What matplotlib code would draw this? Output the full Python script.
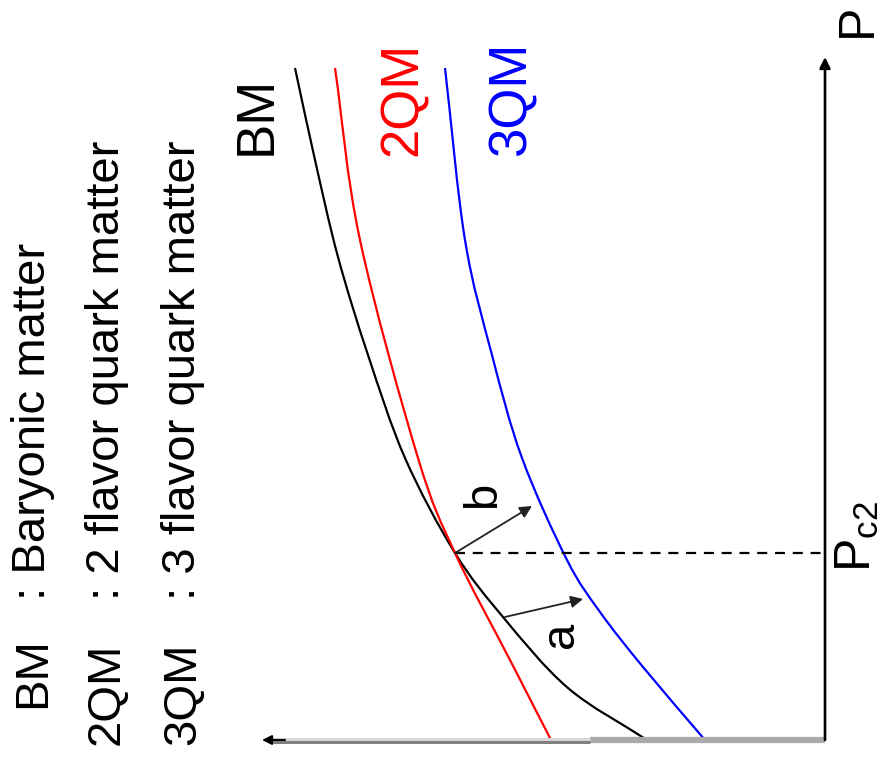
import matplotlib
matplotlib.use("Agg")
import matplotlib.pyplot as plt
from matplotlib.path import Path
from matplotlib.patches import PathPatch

plt.rcParams['font.family'] = ['Liberation Sans', 'DejaVu Sans']
plt.rcParams['mathtext.fontset'] = 'custom'
plt.rcParams['mathtext.rm'] = 'Liberation Sans'
plt.rcParams['mathtext.it'] = 'Liberation Sans'

# chemical potential (arbitrary units) and pressure (arbitrary units)
bm_mu = [530, 510, 487, 457, 420, 370, 322, 257, 178]
bm_p = [672, 580, 483, 385, 282, 187, 123, 52, 0]

qm2_mu = [490, 465, 407, 370, 315, 274]
qm2_p = [672, 500, 282, 187, 80, 0]

qm3_mu = [380, 360, 333, 303, 258, 225, 182, 120]
qm3_p = [672, 500, 385, 282, 180, 128, 73, 0]

p_c2 = 187
mu_c2 = 370

labels = ["BM", "2QM", "3QM"]
descriptions = [": Baryonic matter", ": 2 flavor quark matter", ": 3 flavor quark matter"]


def smooth_curve(ax, xs, ys, **kw):
    # draw a smooth path through the read points (Catmull-Rom as cubic Bezier)
    pts = list(zip(xs, ys))
    n = len(pts)
    verts = [pts[0]]
    codes = [Path.MOVETO]
    for i in range(n - 1):
        p1 = pts[i]
        p2 = pts[i + 1]
        if i > 0:
            p0 = pts[i - 1]
        else:
            p0 = (2 * p1[0] - p2[0], 2 * p1[1] - p2[1])
        if i + 2 < n:
            p3 = pts[i + 2]
        else:
            p3 = (2 * p2[0] - p1[0], 2 * p2[1] - p1[1])
        c1 = (p1[0] + (p2[0] - p0[0]) / 6.0, p1[1] + (p2[1] - p0[1]) / 6.0)
        c2 = (p2[0] - (p3[0] - p1[0]) / 6.0, p2[1] - (p3[1] - p1[1]) / 6.0)
        verts += [c1, c2, p2]
        codes += [Path.CURVE4] * 3
    ax.add_patch(PathPatch(Path(verts, codes), fill=False, **kw))


fig = plt.figure(figsize=(8.8, 7.65), dpi=100)
ax = fig.add_axes([0, 0, 1, 1])
ax.set_xlim(825, -55)
ax.set_ylim(-25, 740)
ax.axis('off')

################# curves #########################################
smooth_curve(ax, bm_mu, bm_p, edgecolor='black', lw=1.6)
smooth_curve(ax, qm2_mu, qm2_p, edgecolor='#ff0000', lw=1.6)
smooth_curve(ax, qm3_mu, qm3_p, edgecolor='#0000ff', lw=1.6)

# dashed line at P_c2
ax.plot([mu_c2, 0], [p_c2, p_c2], color='black', lw=1.6, dashes=(4.5, 3.5))

################# axes ###########################################
ax.plot([0, 235], [0, 0], color='#aaaaaa', lw=4.5, solid_capstyle='butt')
ax.plot([235, 555], [1.5, 1.5], color='#d9d9d9', lw=2.2, solid_capstyle='butt')
ax.plot([235, 555], [-1.5, -1.5], color='#7f7f7f', lw=2.2, solid_capstyle='butt')
ax.annotate('', xy=(563, 0), xytext=(540, 0),
            arrowprops=dict(arrowstyle='-|>', color='black', lw=1.5,
                            mutation_scale=14, shrinkA=0, shrinkB=0))
ax.annotate('', xy=(0, 683), xytext=(0, 0),
            arrowprops=dict(arrowstyle='-|>', color='black', lw=1.9,
                            mutation_scale=16, shrinkA=0, shrinkB=0))

################# arrows a and b ##################################
ax.annotate('', xy=(293, 234), xytext=(mu_c2, p_c2),
            arrowprops=dict(arrowstyle='-|>', color='#222222', lw=1.3,
                            mutation_scale=18, shrinkA=0, shrinkB=0))
ax.annotate('', xy=(242, 141), xytext=(320, 123),
            arrowprops=dict(arrowstyle='-|>', color='#222222', lw=1.3,
                            mutation_scale=18, shrinkA=0, shrinkB=0))

################# texts ###########################################
tkw = dict(rotation=90, rotation_mode='anchor', ha='left', va='baseline')

ax.text(554, 585, "BM", color='black', fontsize=38, **tkw)
ax.text(408, 584, "2QM", color='#ff0000', fontsize=38, **tkw)
ax.text(299, 584, "3QM", color='#0000ff', fontsize=38, **tkw)

ax.text(252, 92, "a", color='black', fontsize=34, **tkw)
ax.text(330, 232, "b", color='black', fontsize=34, **tkw)

ax.text(-46, 703, "P", color='black', fontsize=36, **tkw)
ax.text(-46, 168, r"P$_{\mathrm{c2}}$", color='black', fontsize=36, **tkw)

label_pos = [(780, 32), (706, -5), (630, -5)]
desc_pos = [(780, 140), (706, 140), (630, 140)]
for lab, desc, lp, dp in zip(labels, descriptions, label_pos, desc_pos):
    ax.text(lp[0], lp[1], lab, color='black', fontsize=34, **tkw)
    ax.text(dp[0], dp[1], desc, color='black', fontsize=34, **tkw)

fig.savefig('out.png', dpi=100)
